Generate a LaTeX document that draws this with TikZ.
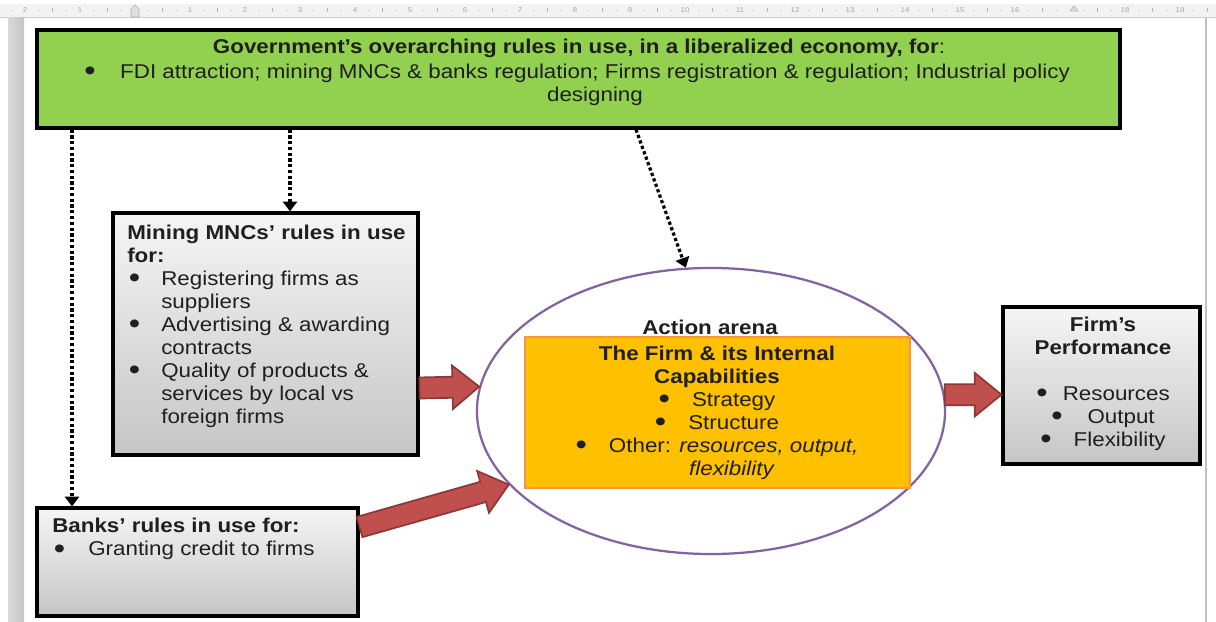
\documentclass[tikz,border=0pt]{standalone}
\usepackage{fontspec}
\setmainfont{Liberation Sans}[FakeStretch=1.12]
\usepackage{tikz}
\usetikzlibrary{arrows.meta,calc,fit,shapes.geometric,positioning}

\definecolor{govgreen}{HTML}{92D050}
\definecolor{firmorange}{HTML}{FFC000}
\definecolor{firmedge}{HTML}{F79646}
\definecolor{arenapurple}{HTML}{8064A2}
\definecolor{blockred}{HTML}{C0504D}
\definecolor{blockedge}{HTML}{8C3836}

\newcommand{\diagfont}{\fontsize{14.2pt}{16.3pt}\selectfont}
% a heavier bullet, hanging indent, and the indent of a continued line
\newcommand{\bul}{\smash{\raisebox{-0.12em}{\scalebox{1.45}{\textbullet}}}}
\newcommand{\bitem}[1][0.85cm]{\makebox[#1][l]{\hspace{0.04cm}\bul}}
\newcommand{\bcont}[1][0.85cm]{\hspace*{#1}}
% fat block arrow from #1 to #2
\newcommand{\fatarrow}[2]{%
  \draw[blockarrow] let \p1=(#1), \p2=(#2),
    \n1={atan2(\y2-\y1,\x2-\x1)}, \n2={veclen(\x2-\x1,\y2-\y1)} in
    [shift={(\p1)}, rotate=\n1]
    (0pt,-7.5pt) -- (\n2-19pt,-7.5pt) -- (\n2-19pt,-15.5pt) -- (\n2,0pt)
    -- (\n2-19pt,15.5pt) -- (\n2-19pt,7.5pt) -- (0pt,7.5pt) -- cycle;}

\begin{document}
\begin{tikzpicture}[x=0.025cm,y=-0.025cm,
  txt/.style={inner sep=0pt, font=\diagfont, text=black!88},
  govbox/.style={draw=black, line width=2.2pt, fill=govgreen, inner sep=0pt},
  greybox/.style={draw=black, line width=2.2pt, top color=gray!8, bottom color=gray!45, inner sep=0pt},
  firmbox/.style={draw=firmedge, line width=1.4pt, fill=firmorange, inner sep=0pt},
  rulearrow/.style={line width=2.3pt, dash pattern=on 2.3pt off 1.8pt, -{Triangle[width=10pt,length=7pt]}},
  blockarrow/.style={fill=blockred, draw=blockedge, line width=1.2pt, line join=miter},
  rulernum/.style={inner sep=0pt, font=\fontsize{5}{6}\selectfont, text=gray!70}]
\useasboundingbox (0,0) rectangle (1216,622);
\fill[white] (0,0) rectangle (1216,622);

% ruler and window edges
\fill[gray!10] (0,4) rectangle (1216,17);
\draw[gray!40] (0,17) -- (1216,17);
\foreach \i in {-3,...,19}{
  \fill[gray!60] ({135+55*\i+13.75},10.5) circle (0.5pt);
  \draw[gray!60] ({135+55*\i+27.5},8.5) -- ({135+55*\i+27.5},12.5);
  \fill[gray!60] ({135+55*\i+41.25},10.5) circle (0.5pt);
}
\foreach \i in {1,...,16,18,19}
  \node[rulernum] (r\i) at ({135+55*\i},10.5) {\i};
\node[rulernum] (l1) at (80,10.5) {1};
\node[rulernum] (l2) at (25,10.5) {2};
\filldraw[fill=gray!25, draw=gray!60] (131,9) -- (135,5) -- (139,9) -- (139,17) -- (131,17) -- cycle;
\filldraw[fill=gray!25, draw=gray!60] (1070,11) -- (1074,6) -- (1078,11) -- cycle;
\shade[left color=gray!30, right color=gray!45] (8,18) rectangle (24,622);
\draw[gray!50, line width=1pt] (1206,18) -- (1206,622);

% boxes
\node[govbox, fit={(37,30) (1120,128)}] (gov) {};
\node[greybox, fit={(113,213) (418,455)}] (mnc) {};
\node[greybox, fit={(37,508) (358,616)}] (banks) {};
\node[greybox, fit={(1003,307) (1200,464)}] (perf) {};
\node[ellipse, draw=arenapurple, line width=1.6pt, minimum width=11.7cm, minimum height=7.15cm, inner sep=0pt] (arena) at (711,411) {};
\node[firmbox, fit={(525,337) (910,488)}] (firm) {};

% texts
\node[txt, font=\diagfont\bfseries] (govhead) at (579,48) {Government’s overarching rules in use, in a liberalized economy, for\mdseries:};
\node[txt, anchor=base] (govdot) at (90,78) {\bul};
\node[txt, anchor=north, align=center] (govlist) at (595,64) {FDI attraction; mining MNCs \& banks regulation; Firms registration \& regulation; Industrial policy\\designing};

\node[txt, anchor=north west, align=left] (mnctext) at (127,225) {\textbf{Mining MNCs’ rules in use}\\\textbf{for:}\\\bitem Registering firms as\\\bcont suppliers\\\bitem Advertising \& awarding\\\bcont contracts\\\bitem Quality of products \&\\\bcont services by local vs\\\bcont foreign firms};

\node[txt, anchor=north west, align=left] (bankstext) at (52,518) {\textbf{Banks’ rules in use for:}\\\bitem[0.9cm]Granting credit to firms};

\node[txt, font=\diagfont\bfseries] (arenahead) at (710,327) {Action arena};
\node[txt, anchor=north, align=center] (firmtext) at (717,346) {\textbf{The Firm \& its Internal}\\\textbf{Capabilities}\\\bul\hspace{0.55cm}Strategy\\\bul\hspace{0.55cm}Structure\\\bul\hspace{0.55cm}Other: \textit{resources, output,}\\\hspace*{0.75cm}\textit{flexibility}};

\node[txt, anchor=north, align=center] (perftext) at (1103,317) {\textbf{Firm’s}\\\textbf{Performance}\\[16.3pt]\bul\hspace{0.38cm}Resources\\\bul\hspace{0.62cm}Output\\\bul\hspace{0.55cm}Flexibility};

% rules flowing down
\draw[rulearrow] (gov.south -| 72,0) -- (banks.north -| 72,0);
\draw[rulearrow] (gov.south -| 290,0) -- (mnc.north -| 290,0);
\draw[rulearrow] (gov.south -| 636,0) -- (arena.100);

% into and out of the arena
\fatarrow{mnc.east |- 0,388}{arena.174}
\fatarrow{banks.east |- 0,527}{arena.200}
\fatarrow{arena.4}{perf.west |- arena.4}
\end{tikzpicture}
\end{document}
